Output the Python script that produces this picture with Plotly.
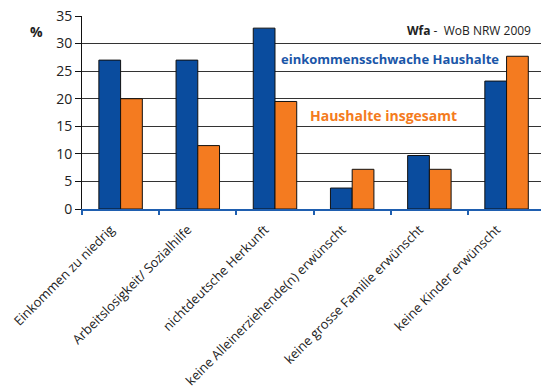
import plotly.graph_objects as go

# Gründe für Ablehnung bei der Wohnungssuche (Angaben in %)
categories = [
    "Einkommen zu niedrig",
    "Arbeitslosigkeit/ Sozialhilfe",
    "nichtdeutsche Herkunft",
    "keine Alleinerziehende(n) erwünscht",
    "keine grosse Familie erwünscht",
    "keine Kinder erwünscht",
]
einkommensschwach = [27.0, 27.0, 32.8, 3.8, 9.7, 23.2]
insgesamt = [20.0, 11.5, 19.5, 7.2, 7.2, 27.7]
y_ticks = [0, 5, 10, 15, 20, 25, 30, 35]

BLUE = "#0a4c9e"
ORANGE = "#f47b20"
FONT = "Open Sans"

W, H = 541, 392
L, R, T, B = 82, 0, 16, 183
pw, ph = W - L - R, H - T - B


def px_x(x):
    return (x - L) / pw


def px_y(y):
    return (H - B - y) / ph


def label(x, y, text, size, color, xanchor="center"):
    fig.add_annotation(xref="paper", yref="paper", x=px_x(x), y=px_y(y),
                       xanchor=xanchor, yanchor="middle", text=text, showarrow=False,
                       font=dict(size=size, color=color))


fig = go.Figure()
fig.add_bar(x=categories, y=einkommensschwach, name="einkommensschwache Haushalte",
            marker=dict(color=BLUE, line=dict(color="#111", width=1)))
fig.add_bar(x=categories, y=insgesamt, name="Haushalte insgesamt",
            marker=dict(color=ORANGE, line=dict(color="#111", width=1)))

fig.update_layout(
    width=W, height=H,
    margin=dict(l=L, r=R, t=T, b=B),
    plot_bgcolor="white", paper_bgcolor="white",
    barmode="group", bargap=0.437, bargroupgap=0,
    showlegend=False,
    font=dict(family=FONT, color="#222"),
)
fig.update_xaxes(
    range=[-0.5, 5.446],
    showline=True, linecolor="#1f5fb0", linewidth=2,
    ticks="outside", tickson="boundaries", ticklen=4, tickwidth=2, tickcolor="#1f5fb0",
    tickangle=-45, tickfont=dict(size=13, color="#222"),
    ticklabelstandoff=6, ticklabelshift=-10,
    showgrid=False,
)
fig.update_yaxes(
    range=[0, 35], tickvals=y_ticks,
    showline=True, linecolor="#111", linewidth=1,
    ticks="outside", ticklen=6, tickcolor="#111",
    tickfont=dict(size=14, color="#222"),
    showgrid=True, gridcolor="#333", gridwidth=1,
    zeroline=False,
)

label(36, 31, "<b>%</b>", 14, "#222")
label(533, 30, "<b>Wfa</b> -  WoB NRW 2009", 12, "#222", xanchor="right")
label(390, 58.5, "<b>einkommensschwache Haushalte</b>", 13, "#1a56a8")
label(383, 115.5, "<b>Haushalte insgesamt</b>", 14, ORANGE)

fig.write_html("out.html")
